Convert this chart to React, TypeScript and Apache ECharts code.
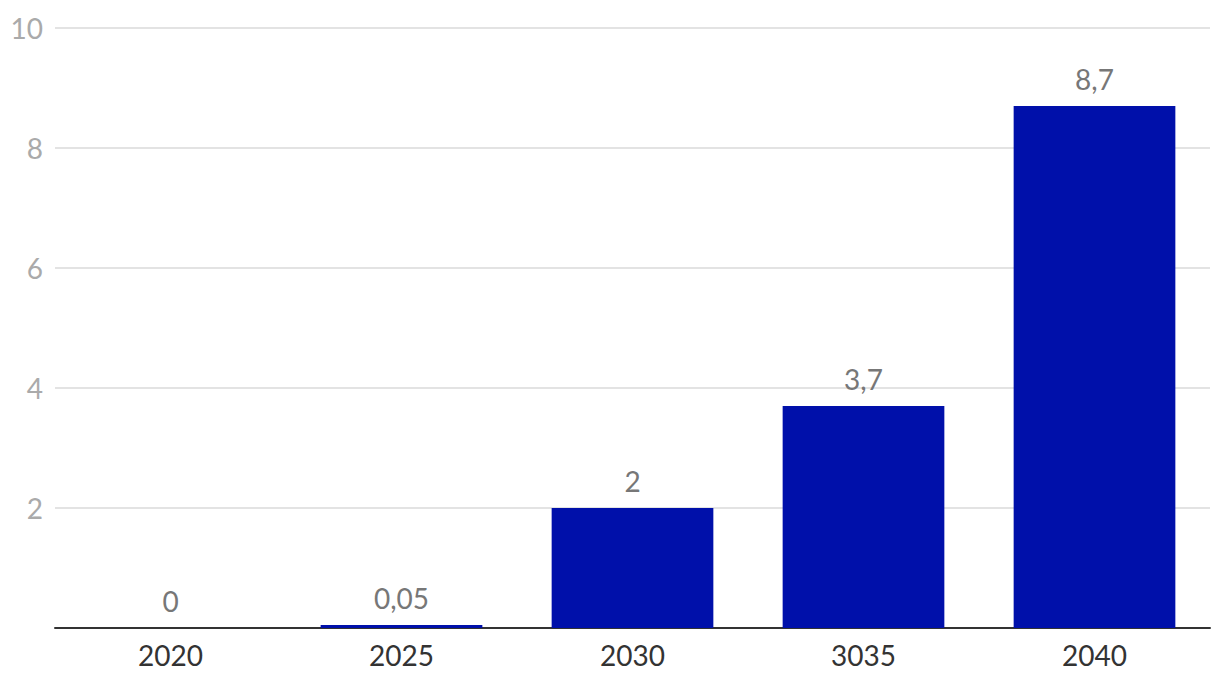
import React, { useEffect, useRef } from "react";
import * as echarts from "echarts";

const categories = ["2020", "2025", "2030", "3035", "2040"];
const values = [0, 0.05, 2, 3.7, 8.7];
const yTicks = [0, 2, 4, 6, 8, 10];

export default function App() {
  const ref = useRef<HTMLDivElement>(null);
  useEffect(() => {
    if (!ref.current) return;
    const chart = echarts.init(ref.current, undefined, { renderer: "svg" });
    chart.setOption({
      animation: false,
      grid: { left: 55, right: 10, top: 28, bottom: 60, containLabel: false },
      xAxis: {
        type: "category",
        data: categories,
        axisLine: { show: true, lineStyle: { color: "#333333", width: 2 } },
        axisTick: { show: false },
        axisLabel: {
          color: "#333333",
          fontFamily: "Lato",
          fontSize: 28,
          margin: 13,
        },
      },
      yAxis: {
        type: "value",
        min: yTicks[0],
        max: yTicks[yTicks.length - 1],
        interval: 2,
        axisLine: { show: false },
        axisTick: { show: false },
        splitLine: { lineStyle: { color: "#e3e3e3", width: 2 } },
        axisLabel: {
          color: "#aaaaaa",
          fontFamily: "Lato",
          fontSize: 28,
          margin: 12,
          formatter: (v: number) => (v === 0 ? "" : String(v)),
        },
      },
      series: [
        {
          type: "bar",
          data: values,
          barCategoryGap: "30%",
          itemStyle: { color: "#0010AA" },
          label: {
            show: true,
            position: "top",
            distance: 13,
            color: "#777777",
            fontFamily: "Lato",
            fontSize: 28,
            formatter: (p: any) => String(p.value).replace(".", ","),
          },
        },
      ],
    });
    return () => chart.dispose();
  }, []);
  return (
    <div
      ref={ref}
      style={{ position: "fixed", left: 0, top: 0, width: 1220, height: 688, background: "#ffffff" }}
    />
  );
}
